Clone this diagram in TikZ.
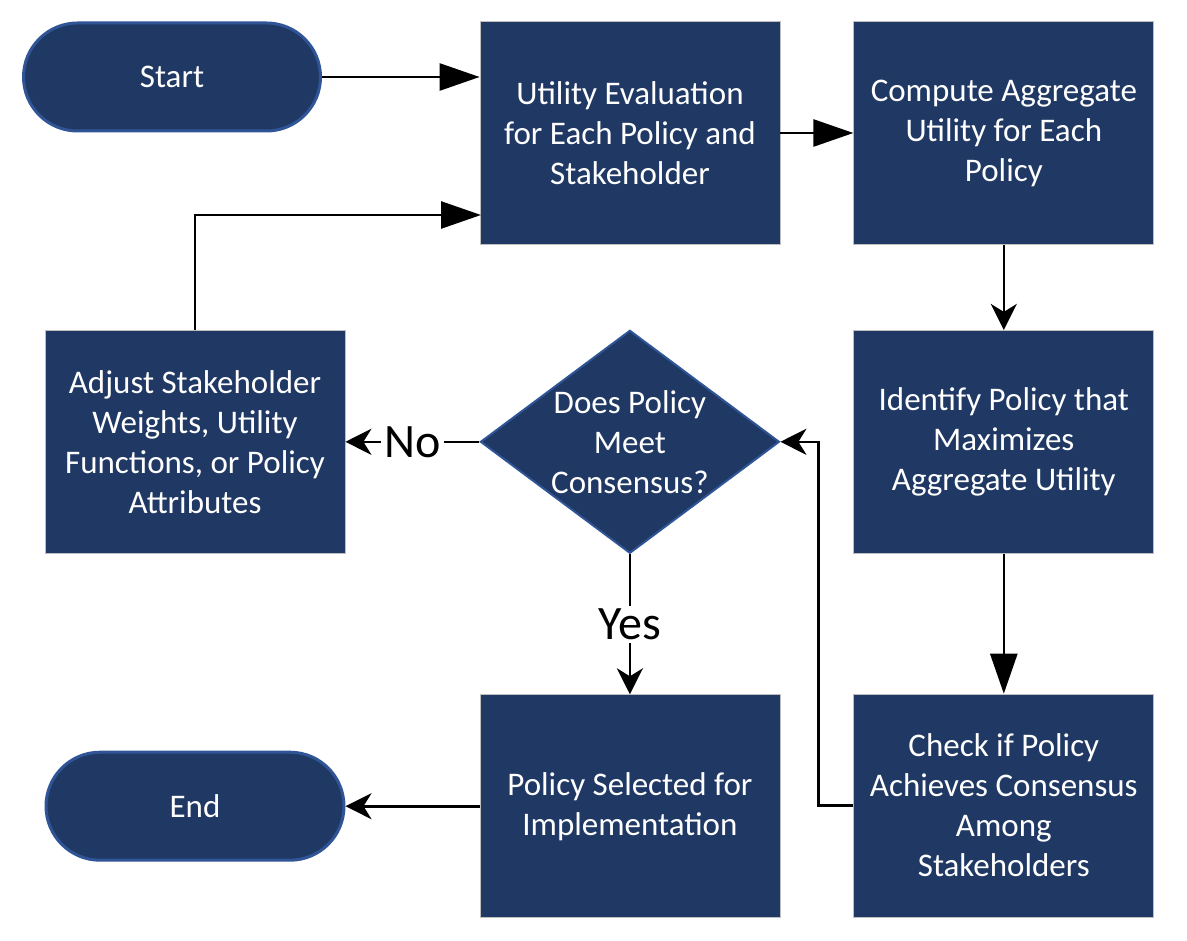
\documentclass[tikz,border=0pt]{standalone}
\usepackage{fontspec}
\setmainfont{Carlito}
\usetikzlibrary{arrows.meta,positioning,shapes.geometric}
\definecolor{navy}{RGB}{32,56,100}
\definecolor{rim}{RGB}{47,85,151}

\begin{document}
\begin{tikzpicture}[x=0.5pt,y=-0.5pt,
node distance=36.5pt and 36.5pt,
txt/.style={text=white,align=center,font=\fontsize{16.5}{20}\selectfont},
box/.style={txt,draw=gray!50,line width=0.4pt,fill=navy,minimum width=150pt,minimum height=111.5pt,inner sep=0pt},
pill/.style={box,draw=rim,line width=1.5pt,rounded corners=27pt,minimum width=148.5pt,minimum height=54pt},
dia/.style={diamond,draw=rim,line width=1pt,fill=navy,minimum width=149.5pt,minimum height=111.5pt,inner sep=0pt},
flow/.style={-{Triangle[length=20pt,width=13.5pt]},line width=1.3pt},
sflow/.style={-{Stealth[length=13pt,width=13pt,inset=4pt]},line width=1.3pt},
lbl/.style={fill=white,inner sep=1.5pt,font=\fontsize{24}{28}\selectfont}]
\useasboundingbox (0,0) rectangle (1187,941);
\node[pill] (start) at (172,77) {Start};
\node[box] (util) at (630,133) {Utility Evaluation\\for Each Policy and\\Stakeholder};
\node[box,right=of util] (agg) {Compute Aggregate\\Utility for Each\\Policy};
\node[box,below=42.5pt of agg] (ident) {Identify Policy that\\Maximizes\\Aggregate Utility};
\node[box,below=70pt of ident] (chk) {Check if Policy\\Achieves Consensus\\Among\\Stakeholders};
\node[dia,left=of ident,label={[txt]center:Does Policy\\Meet\\Consensus?}] (dec) {};
\node[box,below=70pt of dec] (sel) {Policy Selected for\\Implementation};
\node[box,left=67pt of dec] (adj) {Adjust Stakeholder\\Weights, Utility\\Functions, or Policy\\Attributes};
\node[pill,left=67pt of sel,minimum width=149pt] (fin) {End};
\coordinate (back) at (481,215);
% main flow
\draw[flow] (start.east) -- (start.east -| util.west);
\draw[flow] (util) -- (agg);
\draw[sflow] (agg) -- (ident);
\draw[flow] (ident) -- (chk);
\draw[sflow] (chk.west) -- ++(-35,0) |- (dec.east);
% decision
\draw[sflow] (dec.west) -- node[lbl] {No} (adj.east);
\draw[sflow] (dec.south) -- node[lbl] {Yes} (sel.north);
\draw[flow] (adj.north) |- (back);
\draw[sflow] (sel) -- (fin);
\end{tikzpicture}
\end{document}
